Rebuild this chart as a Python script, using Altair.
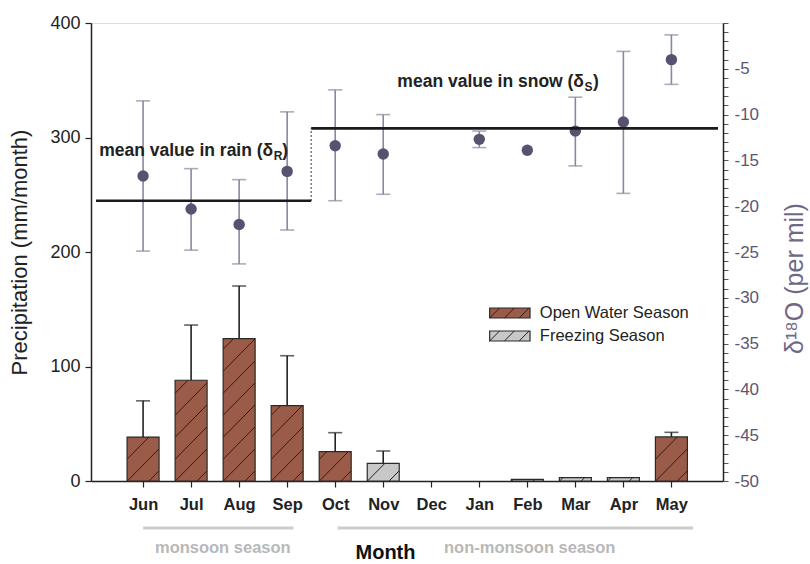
import altair as alt
import pandas as pd

# ---------------- data ----------------
months = ["Jun", "Jul", "Aug", "Sep", "Oct", "Nov", "Dec", "Jan", "Feb", "Mar", "Apr", "May"]
precip = [38.4, 88.0, 124.3, 65.8, 25.6, 15.4, 0.0, 0.0, 1.5, 3.0, 3.0, 38.5]
precip_err = [70.0, 136.2, 170.3, 109.4, 42.2, 26.2, None, None, None, None, None, 42.5]
season = ["Open Water Season"] * 5 + ["Freezing Season"] * 6 + ["Open Water Season"]
d18o = [-16.7, -20.3, -22.0, -16.2, -13.4, -14.3, None, -12.7, -13.9, -11.8, -10.8, -4.0]
d18o_hi = [-8.5, -15.9, -17.1, -9.7, -7.3, -10.0, None, -11.8, None, -8.1, -3.1, -1.3]
d18o_lo = [-24.9, -24.8, -26.3, -22.6, -19.4, -18.7, None, -13.6, None, -15.6, -18.6, -6.7]
rain_mean = -19.4
snow_mean = -11.5
season_names = ["Open Water Season", "Freezing Season"]
season_colors = ["#9a5c48", "#c8c8c8"]

# ---------------- layout constants ----------------
W, H = 632, 458
XMIN, XMAX = -0.98, 11.97
YMAX = 400
PXX = W / (XMAX - XMIN)
PXY = H / YMAX
BAR_PX = 32
FONT = "Liberation Sans, Arial, Helvetica, sans-serif"

idx = list(range(len(months)))
df = pd.DataFrame({"idx": idx, "month": months, "precip": precip,
                   "err": precip_err, "season": season,
                   "d": d18o, "dhi": d18o_hi, "dlo": d18o_lo})

label_expr = "[" + ",".join("'%s'" % m for m in months) + "][datum.value]"

x_axis = alt.Axis(values=idx, labelExpr=label_expr, title="Month",
                  titleX=294, titleY=71, titleBaseline="middle",
                  titleFontSize=20, titleFontWeight="bold", titleColor="#111",
                  labelFontSize=16.5, labelFontWeight="bold", labelColor="#222",
                  labelPadding=9, tickSize=6, tickColor="#222", tickWidth=1.2,
                  domainColor="#222", domainWidth=1.5, grid=False)
x_scale = alt.Scale(domain=[XMIN, XMAX], nice=False, zero=False)

mm_axis = alt.Axis(values=[0, 100, 200, 300, 400], title="Precipitation (mm/month)",
                   titleFontSize=22, titleFontWeight="normal", titleColor="#222",
                   titleAngle=-90, titleBaseline="middle", titleX=-72,
                   labelFontSize=18, labelColor="#222", labelPadding=5,
                   tickSize=6, tickColor="#222", tickWidth=1.2,
                   domainColor="#222", domainWidth=1.5, grid=False)
mm_scale = alt.Scale(domain=[0, YMAX], nice=False, zero=False)

d_axis = alt.Axis(orient="right", values=list(range(-50, 1)),
                  labelExpr="(datum.value % 5 == 0 && datum.value != 0) ? toString(datum.value) : ''",
                  labelOverlap=False, title="δ¹⁸O (per mil)",
                  titleFontSize=25, titleFontWeight="normal", titleColor="#6f6886",
                  titleAngle=-90, titleBaseline="middle", titleX=71, titleY=255,
                  labelFontSize=17, labelColor="#5d5672", labelPadding=6,
                  tickSize=5, tickColor="#555", tickWidth=1,
                  domainColor="#222", domainWidth=1.5, grid=False)
d_scale = alt.Scale(domain=[-50, 0], nice=False, zero=False)


def X(f):
    return alt.X(f, type="quantitative", scale=x_scale, axis=x_axis)


def YM(f):
    return alt.Y(f, type="quantitative", scale=mm_scale, axis=mm_axis)


def YD(f):
    return alt.Y(f, type="quantitative", scale=d_scale, axis=d_axis)


# ---------------- hatch helper (derived from bar values) ----------------
def hatch(cx, y0_mm, w_px, h_px, spacing=22):
    segs = []
    left = cx - w_px / 2 / PXX
    c = -2 * spacing
    while c < h_px:
        u1 = max(0.0, -c)
        u2 = min(w_px, h_px - c)
        if u2 > u1 + 0.3:
            segs.append({"x": left + u1 / PXX, "x2": left + u2 / PXX,
                         "y": y0_mm + (u1 + c) / PXY, "y2": y0_mm + (u2 + c) / PXY})
        c += spacing
    return segs


hatch_rows = []
for i, v in zip(idx, precip):
    if v > 0:
        hatch_rows += hatch(i, 0.0, BAR_PX, v * PXY)
hatch_df = pd.DataFrame(hatch_rows)

# legend (left group, mm units)
LEG_LEFT_PX, LEG_W, LEG_H = 400, 41, 10
leg_centers_px = [290, 313]
leg_rows, leg_hatch_rows, leg_text_rows = [], [], []
for name, col, cy in zip(season_names, season_colors, leg_centers_px):
    x0 = XMIN + LEG_LEFT_PX / PXX
    x1 = XMIN + (LEG_LEFT_PX + LEG_W) / PXX
    ytop = (H - (cy - LEG_H / 2)) / PXY
    ybot = (H - (cy + LEG_H / 2)) / PXY
    leg_rows.append({"x": x0, "x2": x1, "y": ybot, "y2": ytop, "season": name})
    leg_hatch_rows += hatch((x0 + x1) / 2, ybot, LEG_W, LEG_H, spacing=15)
    leg_text_rows.append({"x": XMIN + (LEG_LEFT_PX + LEG_W + 10) / PXX,
                          "y": (H - cy) / PXY, "t": name})
leg_df = pd.DataFrame(leg_rows)
leg_hatch_df = pd.DataFrame(leg_hatch_rows)
leg_text_df = pd.DataFrame(leg_text_rows)

color_enc = alt.Color("season:N", scale=alt.Scale(domain=season_names, range=season_colors), legend=None)

bar_df = df[df["precip"] > 0]
bars = alt.Chart(bar_df).mark_bar(size=BAR_PX, stroke="#2a2a2a", strokeWidth=1.2).encode(
    x=X("idx"), y=YM("precip"), color=color_enc)
hatch_l = alt.Chart(hatch_df).mark_rule(color="#2a1f1b", strokeWidth=1).encode(
    x=X("x"), x2="x2", y=YM("y"), y2="y2")
err_df = df.dropna(subset=["err"])
err_rule = alt.Chart(err_df).mark_rule(color="#222", strokeWidth=1.6).encode(
    x=X("idx"), y=YM("precip"), y2="err")
err_cap = alt.Chart(err_df).mark_tick(orient="horizontal", size=14, thickness=1.6, color="#222").encode(
    x=X("idx"), y=YM("err"))

leg_rect = alt.Chart(leg_df).mark_rect(stroke="#2a2a2a", strokeWidth=1.2).encode(
    x=X("x"), x2="x2", y=YM("y"), y2="y2", color=color_enc)
leg_hatch = alt.Chart(leg_hatch_df).mark_rule(color="#2a1f1b", strokeWidth=1).encode(
    x=X("x"), x2="x2", y=YM("y"), y2="y2")
leg_text = alt.Chart(leg_text_df).mark_text(align="left", baseline="middle", fontSize=16.5,
                                            font=FONT, color="#222").encode(
    x=X("x"), y=YM("y"), text="t:N")

# season annotations below the axis
season_lines = pd.DataFrame({"x": [0.0, 4.05], "x2": [3.13, 11.45],
                             "xm": [1.66, 8.05], "t": ["monsoon season", "non-monsoon season"]})
s_rule = alt.Chart(season_lines).mark_rule(color="#cccccc", strokeWidth=3).encode(
    x=X("x"), x2="x2", y=alt.value(505))
s_text = alt.Chart(season_lines).mark_text(fontSize=16.5, fontWeight="bold", font=FONT,
                                           color="#b8b8b8", baseline="middle").encode(
    x=X("xm"), y=alt.value(525), text="t:N")

left = alt.layer(bars, hatch_l, err_rule, err_cap, leg_rect, leg_hatch, leg_text, s_rule, s_text)

# ---------------- right (delta 18O) group ----------------
ddf = df.dropna(subset=["d"])
derr = df.dropna(subset=["dhi"])
PT = "#5a5070"
EB = "#8c86a0"
d_rule = alt.Chart(derr).mark_rule(color=EB, strokeWidth=1.6).encode(x=X("idx"), y=YD("dlo"), y2="dhi")
d_cap_hi = alt.Chart(derr).mark_tick(orient="horizontal", size=14, thickness=1.6, color=EB).encode(
    x=X("idx"), y=YD("dhi"))
d_cap_lo = alt.Chart(derr).mark_tick(orient="horizontal", size=14, thickness=1.6, color=EB).encode(
    x=X("idx"), y=YD("dlo"))
d_pts = alt.Chart(ddf).mark_circle(size=130, color=PT, opacity=1).encode(x=X("idx"), y=YD("d"))

means = pd.DataFrame({"x": [XMIN, 3.5], "x2": [3.5, XMAX], "y": [rain_mean, snow_mean]})
m_rule = alt.Chart(means).mark_rule(color="#1a1a1a", strokeWidth=2.6).encode(
    x=X("x"), x2="x2", y=YD("y"))
dot_df = pd.DataFrame({"x": [3.5], "y": [rain_mean], "y2": [snow_mean]})
m_dot = alt.Chart(dot_df).mark_rule(color="#222", strokeWidth=1.2, strokeDash=[1.5, 2.5]).encode(
    x=X("x"), y=YD("y"), y2="y2")

ann = pd.DataFrame({"x": [2.71, 9.18], "y": [-14.0, -6.4],
                    "t": ["mean value in rain (δ", "mean value in snow (δ"],
                    "s": ["R", "S"], "p": [")", ")"]})
a_main = alt.Chart(ann).mark_text(align="right", baseline="middle", fontSize=17.5, fontWeight="bold",
                                  font=FONT, color="#222").encode(x=X("x"), y=YD("y"), text="t:N")
a_sub = alt.Chart(ann).mark_text(align="left", baseline="middle", fontSize=12, fontWeight="bold",
                                 font=FONT, color="#222", dx=0.5, dy=5).encode(x=X("x"), y=YD("y"), text="s:N")
a_par = alt.Chart(ann).mark_text(align="left", baseline="middle", fontSize=17.5, fontWeight="bold",
                                 font=FONT, color="#222", dx=9).encode(x=X("x"), y=YD("y"), text="p:N")

right = alt.layer(d_rule, d_cap_hi, d_cap_lo, d_pts, m_rule, m_dot, a_main, a_sub, a_par)

chart = alt.layer(left, right).resolve_scale(y="independent").properties(
    width=W, height=H,
    padding={"left": 91, "top": 23, "right": 87, "bottom": 83},
    autosize=alt.AutoSizeParams(type="none"),
).configure_view(stroke="#222", strokeWidth=1.5).configure(font=FONT)

chart.save("out.html", embed_options={"renderer": "svg", "actions": False})
